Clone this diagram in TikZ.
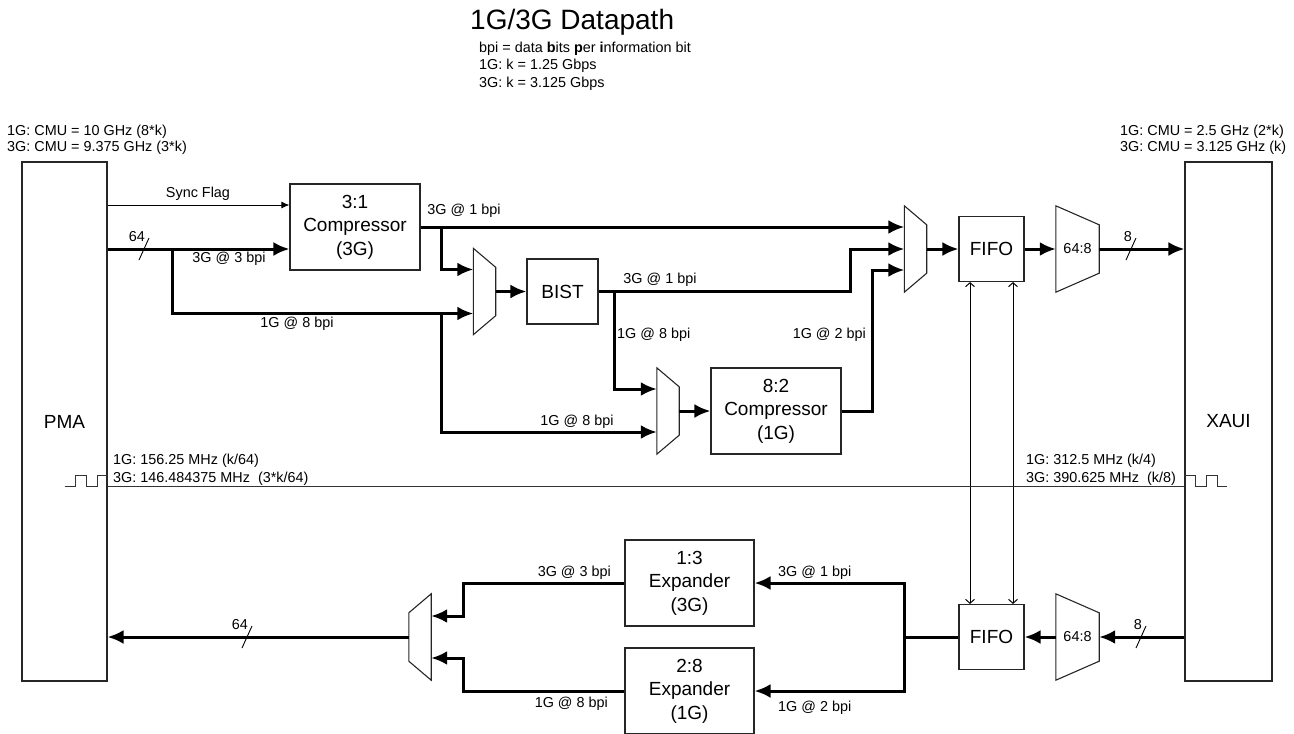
\documentclass[tikz,border=0pt]{standalone}
\usepackage{fontspec}
\setmainfont{Liberation Sans}
\usetikzlibrary{positioning,arrows.meta,calc}

\newcommand{\lblfont}{\fontsize{14.4}{17}\selectfont}
\newcommand{\blkfont}{\fontsize{19}{23.5}\selectfont}

\begin{document}
\begin{tikzpicture}[x=1pt, y=-1pt,
  blk/.style={draw=black!85, line width=1.1pt, rectangle, inner sep=0pt, align=center, font=\blkfont},
  mux/.style={minimum width=22pt, minimum height=86pt, inner sep=0pt},
  lbl/.style={font=\lblfont, inner sep=0pt},
  dat/.style={line width=3pt, -{Latex[length=16pt,width=14pt]}},
  ctl/.style={line width=1pt, -{Latex[length=8pt,width=7pt]}},
  bidi/.style={line width=1pt, {Straight Barb[length=4pt,width=9pt]}-{Straight Barb[length=4pt,width=9pt]}},
  clkw/.style={line width=1pt, draw=black!80},
  tick/.style={line width=0.9pt}]

\useasboundingbox (0,0) rectangle (1294,734);

% Title
\node[anchor=base west, inner sep=0pt, font=\fontsize{28}{32}\selectfont] (title) at (470,29.3) {1G/3G Datapath};
\node[lbl, anchor=north west, align=left, font=\fontsize{14.4}{17.5}\selectfont] (defs) at (479,41.5)
  {bpi = data \textbf{b}its \textbf{p}er \textbf{i}nformation bit\\1G: k = 1.25 Gbps\\3G: k = 3.125 Gbps};
\node[lbl, anchor=north west, align=left, font=\fontsize{14.4}{16}\selectfont] (cmuL) at (7,124.5)
  {1G: CMU = 10 GHz (8*k)\\3G: CMU = 9.375 GHz (3*k)};
\node[lbl, anchor=north west, align=left, font=\fontsize{14.4}{16}\selectfont] (cmuR) at (1120,124.5)
  {1G: CMU = 2.5 GHz (2*k)\\3G: CMU = 3.125 GHz (k)};

% Nodes
\node[blk, minimum width=85pt, minimum height=519pt] (pma) at (64.5,421.5) {PMA};
\node[blk, minimum width=87pt, minimum height=519pt] (xaui) at (1228.5,421.5) {XAUI};
\node[blk, minimum width=130pt, minimum height=86pt] (c31) at (355,227) {3:1\\Compressor\\(3G)};
\node[blk, minimum width=71pt, minimum height=65pt] (bist) at (562.5,291.5) {BIST};
\node[blk, minimum width=130pt, minimum height=86pt] (c82) at (776,411) {8:2\\Compressor\\(1G)};
\node[blk, minimum width=65pt, minimum height=65pt] (fifoT) at (991.5,249) {FIFO};
\node[blk, minimum width=65pt, minimum height=65pt] (fifoB) at (991.5,637) {FIFO};
\node[blk, minimum width=129pt, minimum height=86pt] (e13) at (689.5,583) {1:3\\Expander\\(3G)};
\node[blk, minimum width=129pt, minimum height=86pt] (e28) at (689.5,691) {2:8\\Expander\\(1G)};

% Muxes
\node[mux] (mux1) at (484.5,291.5) {};
\node[mux] (mux2) at (668,411) {};
\node[mux] (mux3) at (915.5,249) {};
\node[mux] (mux4) at (420,637) {};
\node[mux, minimum width=43pt, font=\lblfont] (serT) at (1077.5,249) {64:8};
\node[mux, minimum width=43pt, font=\lblfont] (serB) at (1077.5,637) {64:8};
\foreach \m in {mux1,mux2,mux3,serT,serB}
  \draw[line width=1.1pt, draw=black!85] (\m.north west) -- ([yshift=-19pt]\m.north east)
    -- ([yshift=19pt]\m.south east) -- (\m.south west) -- cycle;
\draw[line width=1.1pt, draw=black!85] (mux4.north east) -- ([yshift=-19pt]mux4.north west)
  -- ([yshift=19pt]mux4.south west) -- (mux4.south east) -- cycle;

% Mux inputs and junctions
\coordinate (sync) at ([yshift=22pt]c31.west);
\coordinate (c31in) at ([yshift=-22pt]c31.west);
\coordinate (m1a) at ([yshift=22pt]mux1.west);
\coordinate (m1b) at ([yshift=-22pt]mux1.west);
\coordinate (m2a) at ([yshift=22pt]mux2.west);
\coordinate (m2b) at ([yshift=-21pt]mux2.west);
\coordinate (m3a) at ([yshift=22pt]mux3.west);
\coordinate (m3b) at ([yshift=-21pt]mux3.west);
\coordinate (m4a) at ([yshift=21pt]mux4.east);
\coordinate (m4b) at ([yshift=-21pt]mux4.east);
\coordinate (j64) at (172,249);
\coordinate (j31) at (441,227);
\coordinate (j18) at (441,313.5);
\coordinate (jbi) at (614,291.5);
\coordinate (clk) at (600,486);

% Arrows, receive side
\draw[ctl] (pma.east |- sync) -- (sync);
\draw[dat] (pma.east |- c31in) -- (c31in);
\draw[dat] (c31.east) -- (m3a);
\draw[dat] (j31) |- (m1a);
\draw[dat] (j64) |- (m1b);
\draw[dat] (j18) |- (m2b);
\draw[dat] (mux1.east) -- (bist.west);
\draw[dat] (bist.east) -| ([xshift=-54pt]mux3.west) -- (mux3.west);
\draw[dat] (jbi) |- (m2a);
\draw[dat] (mux2.east) -- (c82.west);
\draw[dat] (c82.east) -| ([xshift=-32pt]m3b) -- (m3b);
\draw[dat] (mux3.east) -- (fifoT.west);
\draw[dat] (fifoT.east) -- (serT.west);
\draw[dat] (serT.east) -- (serT.east -| xaui.west);

% Arrows, transmit side
\draw[dat] (xaui.west |- serB.east) -- (serB.east);
\draw[dat] (serB.west) -- (fifoB.east);
\draw[dat] (fifoB.west) -| ([xshift=150pt]e13.east) -- (e13.east);
\draw[dat] (fifoB.west) -| ([xshift=150pt]e28.east) -- (e28.east);
\draw[dat] (e13.west) -| ([xshift=32pt]m4a) -- (m4a);
\draw[dat] (e28.west) -| ([xshift=32pt]m4b) -- (m4b);
\draw[dat] (mux4.west) -- (mux4.west -| pma.east);

% FIFO pointers
\draw[bidi] ([xshift=-21.5pt]fifoT.south) -- ([xshift=-21.5pt]fifoB.north);
\draw[bidi] ([xshift=21.5pt]fifoT.south) -- ([xshift=21.5pt]fifoB.north);

% Clocks
\draw[clkw] (pma.east |- clk) -- (xaui.west |- clk);
\draw[clkw] (pma.east |- clk) ++(-43,0) -- ++(11,0) -- ++(0,-11) -- ++(11,0) -- ++(0,11)
  -- ++(11,0) -- ++(0,-11) -- ++(10,0);
\draw[clkw] (xaui.west |- clk) ++(0,-11) -- ++(11,0) -- ++(0,11) -- ++(11,0) -- ++(0,-11)
  -- ++(11,0) -- ++(0,11) -- ++(10,0);
\node[lbl, anchor=north west, align=left, font=\fontsize{14.4}{18}\selectfont] (clkL) at (113,453.5)
  {1G: 156.25 MHz (k/64)\\3G: 146.484375 MHz~ (3*k/64)};
\node[lbl, anchor=north west, align=left, font=\fontsize{14.4}{18}\selectfont] (clkR) at (1026,453.5)
  {1G: 312.5 MHz (k/4)\\3G: 390.625 MHz~ (k/8)};

% Bus widths
\foreach \x/\y/\w [count=\i] in {144/249/64, 1131/249/8, 1141/637/8, 247/637/64} {
  \draw[tick] (\x+5,\y-11) coordinate (s\i) -- (\x-5,\y+11);
  \node[lbl, anchor=east] (w\i) at ([xshift=-4pt,yshift=1pt]s\i) {\w};
}

% Labels
\node[lbl] (syncl) at (198,194) {Sync Flag};
\node[lbl] (l1) at (229,259) {3G @ 3 bpi};
\node[lbl] (l2) at (297,324) {1G @ 8 bpi};
\node[lbl] (l3) at (464,211) {3G @ 1 bpi};
\node[lbl] (l4) at (660,280) {3G @ 1 bpi};
\node[lbl, anchor=west] (l5) at (617,335) {1G @ 8 bpi};
\node[lbl, anchor=east] (l6) at (866,335) {1G @ 2 bpi};
\node[lbl] (l7) at (577,422) {1G @ 8 bpi};
\node[lbl, anchor=west] (l8) at (778,573) {3G @ 1 bpi};
\node[lbl, anchor=west] (l9) at (778,708) {1G @ 2 bpi};
\node[lbl, anchor=east] (l10) at (611,573) {3G @ 3 bpi};
\node[lbl, anchor=east] (l11) at (608,704) {1G @ 8 bpi};

\end{tikzpicture}
\end{document}
